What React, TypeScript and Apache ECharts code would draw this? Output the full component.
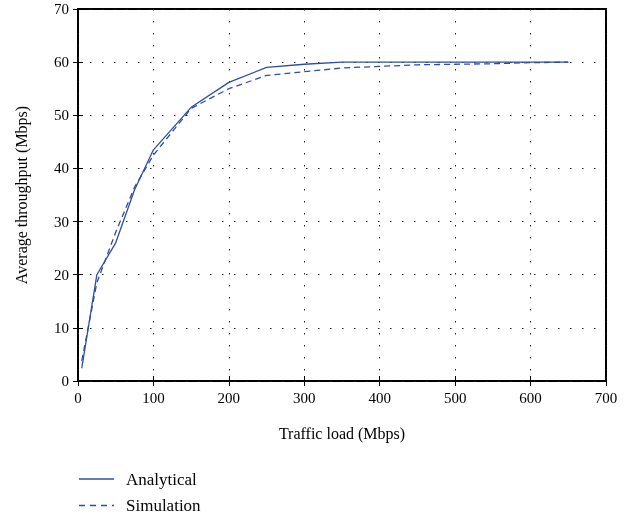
import React, { useEffect, useRef } from "react";
import * as echarts from "echarts";

const loads = [5, 25, 50, 75, 100, 150, 200, 250, 300, 350, 400, 450, 500, 550, 600, 650];
const analytical = [2.4, 20, 26, 36, 43.5, 51.5, 56.2, 59, 59.6, 60, 60, 60, 60, 60, 60, 60];
const simulation = [3.8, 18.5, 28, 36.5, 42.5, 51.3, 55, 57.5, 58.2, 58.9, 59.2, 59.5, 59.6, 59.7, 59.9, 60];
const xTicks = [0, 100, 200, 300, 400, 500, 600, 700];
const seriesNames = ["Analytical", "Simulation"];

const FONT = "Liberation Serif";
const BLUE = "#2c4ea6";

export default function App() {
  const ref = useRef<HTMLDivElement>(null);
  useEffect(() => {
    const chart = echarts.init(ref.current!, undefined, { renderer: "svg" });
    const pair = (xs: number[], ys: number[]) => xs.map((x, i) => [x, ys[i]]);
    const dots = { show: true, lineStyle: { color: "#222", type: [1.5, 10.5] as any, width: 1 } };
    const legendItems: any[] = [];
    seriesNames.forEach((name, i) => {
      const y = 479 + i * 26.5;
      legendItems.push({
        type: "line",
        shape: { x1: 79, y1: y, x2: 114, y2: y },
        style: { stroke: BLUE, lineWidth: 1.3, lineDash: i === 0 ? null : [6, 5] },
      });
      legendItems.push({
        type: "text",
        x: 126, y,
        style: { text: name, fontFamily: FONT, fontSize: 17, fill: "#000", verticalAlign: "middle", align: "left" },
      });
    });
    chart.setOption({
      animation: false,
      textStyle: { fontFamily: FONT },
      grid: { left: 78, right: 30, top: 9, bottom: 142, show: true, borderColor: "#000", borderWidth: 2, backgroundColor: "transparent" },
      graphic: legendItems,
      xAxis: [
        {
          type: "value", min: 0, max: 700, interval: 100,
          axisLine: { show: false },
          axisTick: { inside: true, length: 5, lineStyle: { color: "#000" } },
          axisLabel: { fontFamily: FONT, fontSize: 15, color: "#000", margin: 9, customValues: xTicks } as any,
          splitLine: dots,
          name: "Traffic load (Mbps)", nameLocation: "middle", nameGap: 44,
          nameTextStyle: { fontFamily: FONT, fontSize: 16, color: "#000" },
        },
        {
          type: "value", position: "top", min: 0, max: 700, interval: 100,
          axisLine: { show: false }, axisLabel: { show: false }, splitLine: { show: false },
          axisTick: { inside: true, length: 5, lineStyle: { color: "#000" } },
        },
      ],
      yAxis: [
        {
          type: "value", min: 0, max: 70, interval: 10,
          axisLine: { show: false },
          axisTick: { show: true, inside: true, length: 5, lineStyle: { color: "#000" } },
          axisLabel: { fontFamily: FONT, fontSize: 15, color: "#000", margin: 9 },
          splitLine: dots,
          name: "Average throughput (Mbps)", nameLocation: "middle", nameGap: 49,
          nameTextStyle: { fontFamily: FONT, fontSize: 16, color: "#000" },
        },
        {
          type: "value", position: "right", min: 0, max: 70, interval: 10,
          axisLine: { show: false }, axisLabel: { show: false }, splitLine: { show: false },
          axisTick: { show: true, inside: true, length: 5, lineStyle: { color: "#000" } },
        },
      ],
      series: [
        {
          name: seriesNames[0], type: "line", data: pair(loads, analytical),
          symbol: "none", showSymbol: false,
          lineStyle: { color: BLUE, width: 1.3, type: "solid" }, itemStyle: { color: BLUE },
        },
        {
          name: seriesNames[1], type: "line", data: pair(loads, simulation),
          symbol: "none", showSymbol: false,
          lineStyle: { color: BLUE, width: 1.3, type: [6, 4] as any }, itemStyle: { color: BLUE },
        },
      ],
    });
    return () => chart.dispose();
  }, []);
  return <div ref={ref} style={{ position: "fixed", left: 0, top: 0, width: 636, height: 523 }} />;
}
